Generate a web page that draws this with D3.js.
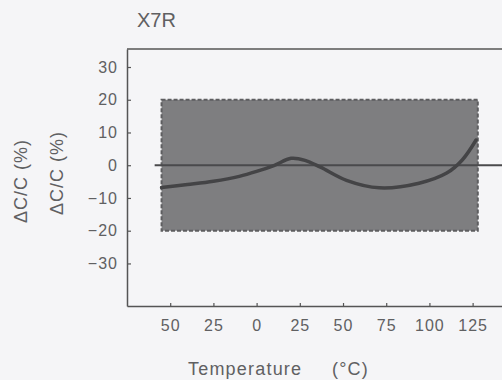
<!DOCTYPE html>
<html>
<head>
<meta charset="utf-8">
<script src="https://cdn.jsdelivr.net/npm/d3@7"></script>
<style>
  html, body { margin: 0; padding: 0; background: #f5f5f7; }
  svg { display: block; }
  text { font-family: "Liberation Sans", Arial, sans-serif; fill: #606062; }
</style>
</head>
<body>
<div id="chart"></div>
<script>
// temperature (°C) vs capacitance change (%)
const temps = [-55, -40, -25, -10, 0, 10, 20, 28, 37, 52, 71, 94, 110, 119, 127];
const deltaC = [-6.8, -5.9, -4.9, -3.4, -1.9, -0.1, 2.1, 1.5, -0.6, -4.6, -6.9, -5.5, -2.4, 1.6, 7.7];

const xTicks = [-50, -25, 0, 25, 50, 75, 100, 125];
const xTickLabels = ['50', '25', '0', '25', '50', '75', '100', '125'];
const yTicks = [30, 20, 10, 0, -10, -20, -30];
const yTickLabels = ['30', '20', '10', '0', '\u221210', '\u221220', '\u221230'];

// X7R limit band and the 0 % reference line
const bandT = [-55, 128];
const bandC = [-20, 20];
const zeroLineT = [-59, 142];

const width = 502;
const height = 380;
const margin = { top: 49, right: 0, bottom: 74, left: 127 };

const svg = d3.select('#chart').append('svg')
  .attr('width', width)
  .attr('height', height);

const x = d3.scaleLinear()
  .domain([-75, 142])
  .range([margin.left, width - margin.right]);

const y = d3.scaleLinear()
  .domain([-43, 35.5])
  .range([height - margin.bottom, margin.top]);

// limit band
svg.append('rect')
  .attr('x', x(bandT[0]))
  .attr('y', y(bandC[1]))
  .attr('width', x(bandT[1]) - x(bandT[0]))
  .attr('height', y(bandC[0]) - y(bandC[1]))
  .attr('fill', '#7e7e80')
  .attr('stroke', '#5e5e60')
  .attr('stroke-width', 2)
  .attr('stroke-dasharray', '4,2');

// zero line
svg.append('line')
  .attr('x1', x(zeroLineT[0]))
  .attr('x2', x(zeroLineT[1]))
  .attr('y1', y(0))
  .attr('y2', y(0))
  .attr('stroke', '#4a4a4c')
  .attr('stroke-width', 2);

// curve
const line = d3.line()
  .x((d, i) => x(temps[i]))
  .y(d => y(d))
  .curve(d3.curveCatmullRom.alpha(0.5));

svg.append('path')
  .datum(deltaC)
  .attr('fill', 'none')
  .attr('stroke', '#444446')
  .attr('stroke-width', 3.5)
  .attr('stroke-linecap', 'round')
  .attr('d', line);

// axes
const xAxis = svg.append('g')
  .attr('transform', `translate(0,${height - margin.bottom})`)
  .call(d3.axisBottom(x)
    .tickValues(xTicks)
    .tickFormat((d, i) => xTickLabels[i])
    .tickSizeInner(-3)
    .tickSizeOuter(0)
    .tickPadding(14));

const yAxis = svg.append('g')
  .attr('transform', `translate(${margin.left},0)`)
  .call(d3.axisLeft(y)
    .tickValues(yTicks)
    .tickFormat((d, i) => yTickLabels[i])
    .tickSizeInner(-4)
    .tickSizeOuter(0)
    .tickPadding(9));

[xAxis, yAxis].forEach(a => {
  a.select('.domain').attr('stroke', '#555').attr('stroke-width', 1.5);
  a.selectAll('.tick line').attr('stroke', '#555').attr('stroke-width', 1.2);
  a.selectAll('.tick text')
    .attr('fill', '#606062')
    .style('font-size', '16px')
    .style('letter-spacing', '1px')
    .style('font-family', '"Liberation Sans", Arial, sans-serif');
});

// top frame line
svg.append('line')
  .attr('x1', x.range()[0])
  .attr('x2', x.range()[1])
  .attr('y1', y.range()[1])
  .attr('y2', y.range()[1])
  .attr('stroke', '#555')
  .attr('stroke-width', 1.5);

// title
svg.append('text')
  .attr('x', 137)
  .attr('y', 27)
  .style('font-size', '20px')
  .text('X7R');

// y labels (printed twice in the original)
[[21, 181], [57, 173]].forEach(([cx, cy]) => {
  svg.append('text')
    .attr('transform', `translate(${cx},${cy}) rotate(-90)`)
    .attr('text-anchor', 'middle')
    .attr('dominant-baseline', 'central')
    .style('font-size', '18px')
    .style('letter-spacing', '1px')
    .text('\u0394C/C (%)');
});

// x label
const xl = svg.append('text')
  .attr('x', 188)
  .attr('y', 375)
  .style('font-size', '18px')
  .style('letter-spacing', '1.2px');
xl.append('tspan').text('Temperature');
xl.append('tspan').attr('x', 332).text('(\u00b0C)');
</script>
</body>
</html>
